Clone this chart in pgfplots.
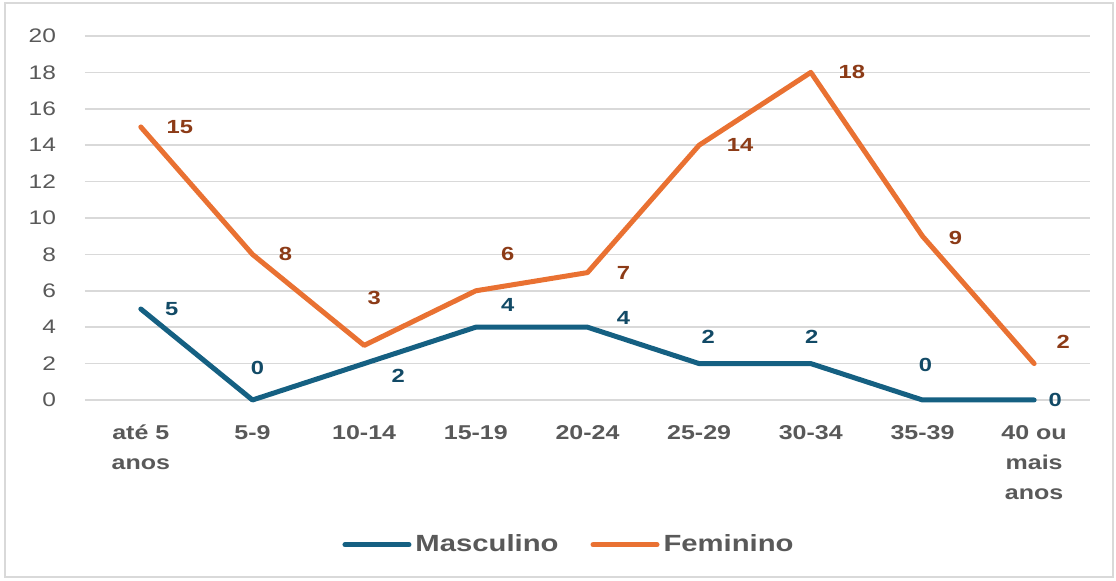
\documentclass[border=0pt]{standalone}
\usepackage{pgfplots}
\pgfplotsset{compat=1.18}
\usepackage{pgfplotstable}
\usepackage{fontspec}
\setmainfont[FakeStretch=1.25]{Liberation Sans}
\definecolor{mblue}{HTML}{156082}
\definecolor{forange}{HTML}{E97132}
\definecolor{mbluelab}{HTML}{124A66}
\definecolor{forangelab}{HTML}{8C3B17}
\definecolor{txtgray}{HTML}{595959}
\definecolor{gridgray}{HTML}{D9D9D9}
\pgfplotstableread{
x y dx dy
0 5 15.5 0
1 0 2.5 16
2 2 17 -6
3 4 16 11
4 4 18 4.5
5 2 4.5 13.5
6 2 0.5 13.5
7 0 1.5 17.5
8 0 10.5 0
}\masc
\pgfplotstableread{
x y dx dy
0 15 19.5 0
1 8 16.5 0
2 3 5 23.5
3 6 16 18.5
4 7 18 0
5 14 20.5 0
6 18 20.5 0
7 9 16.5 -1
8 2 14.5 11
}\fem
\begin{document}
\begin{tikzpicture}
\path[use as bounding box] (0,0) rectangle (558pt,290.5pt);
\draw[gridgray, line width=0.8pt] (2.5pt,2pt) rectangle (556.5pt,289pt);
\begin{axis}[
  at={(42.5pt,90.5pt)}, anchor=south west,
  scale only axis, width=502.5pt, height=182pt,
  xmin=-0.5, xmax=8.5, ymin=0, ymax=20,
  ytick={0,2,...,20},
  xtick={0,...,8},
  xticklabels={{até 5\\anos},{5-9},{10-14},{15-19},{20-24},{25-29},{30-34},{35-39},{40 ou\\mais\\anos}},
  axis line style={draw=none},
  major tick length=0pt,
  ymajorgrids, grid style={gridgray, line width=0.8pt},
  yticklabel style={font=\fontsize{9.8}{11}\selectfont, text=txtgray, xshift=-11pt},
  xticklabel style={font=\fontsize{10}{15}\selectfont\bfseries, text=txtgray, align=center, anchor=north, yshift=-9pt},
  /pgf/number format/assume math mode=true,
  clip=false,
  legend columns=2,
  legend style={at={(axis description cs:0.4826,-0.398)}, anchor=center, draw=none, fill=none,
    font=\fontsize{11.7}{13}\selectfont\bfseries, text=txtgray,
    /tikz/every odd column/.append style={column sep=0pt},
    /tikz/every even column/.append style={column sep=14pt}},
  legend image code/.code={\draw[#1, line width=2.5pt, line cap=round] (0pt,0pt) -- (32pt,0pt);},
  nodes near coords,
  point meta=explicit,
  visualization depends on={\thisrow{dx} \as \dx},
  visualization depends on={\thisrow{dy} \as \dy},
  every node near coord/.append style={font=\fontsize{9.5}{10}\selectfont\bfseries, anchor=center, xshift=\dx pt, yshift=\dy pt},
]
\addplot[mblue, line width=2.5pt, line join=round, line cap=round, no marks,
  nodes near coords style={text=mbluelab}] table[x=x, y=y, meta=y] {\masc};
\addlegendentry{Masculino}
\addplot[forange, line width=2.5pt, line join=round, line cap=round, no marks,
  nodes near coords style={text=forangelab}] table[x=x, y=y, meta=y] {\fem};
\addlegendentry{Feminino}
\end{axis}
\end{tikzpicture}
\end{document}
